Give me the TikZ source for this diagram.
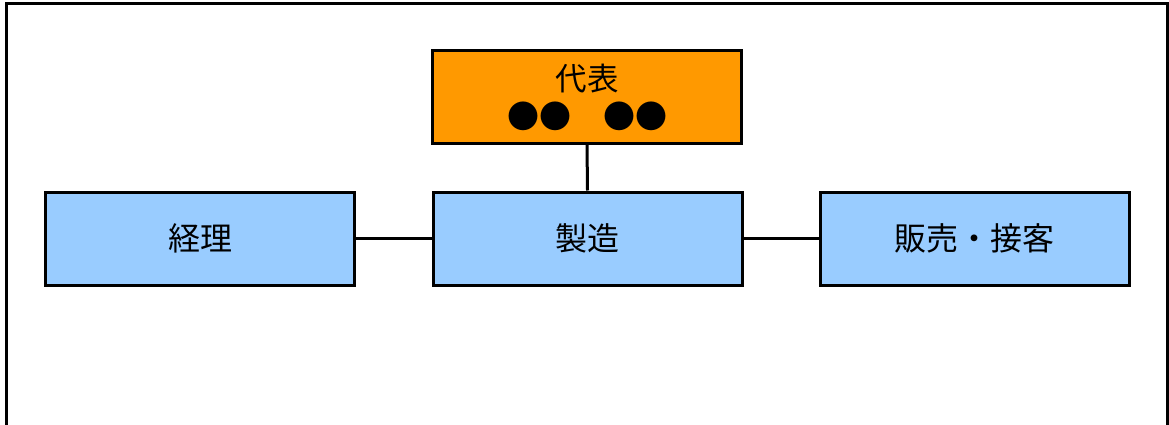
\documentclass[tikz,border=0pt]{standalone}
\usepackage{fontspec}
\newfontfamily\jp{Noto Sans CJK JP}
\definecolor{orgfill}{HTML}{FF9900}
\definecolor{bluefill}{HTML}{99CCFF}
\begin{document}
\begin{tikzpicture}[x=1pt,y=-1pt,
  box/.style={draw=black,line width=3pt,rectangle,minimum width=309pt,minimum height=93.5pt,inner sep=0pt,align=center,font=\jp\fontsize{32}{38}\selectfont},
  link/.style={draw=black,line width=3pt}]
\useasboundingbox (0,0) rectangle (1169,425);
\begin{scope}
\clip (0,0) rectangle (1169,425);
\draw[line width=3pt,line join=miter] (6.5,440) -- (6.5,4) -- (1167.5,4) -- (1167.5,440);
\end{scope}
\node[box,fill=orgfill,minimum height=93pt] (rep) at (587,97) {{\fontsize{31.5}{35.5}\selectfont 代表}\\{\fontsize{32}{35.5}\selectfont ●●　●●}};
\node[box,fill=bluefill] (acc) at (200,238.75) {経理};
\node[box,fill=bluefill] (mfg) at (587.5,238.75) {製造};
\node[box,fill=bluefill] (sal) at (974.75,238.75) {販売・接客};
\draw[link] (rep.south) -- (mfg.north);
\draw[link] (acc.east) -- (mfg.west);
\draw[link] (mfg.east) -- (sal.west);
\end{tikzpicture}
\end{document}
